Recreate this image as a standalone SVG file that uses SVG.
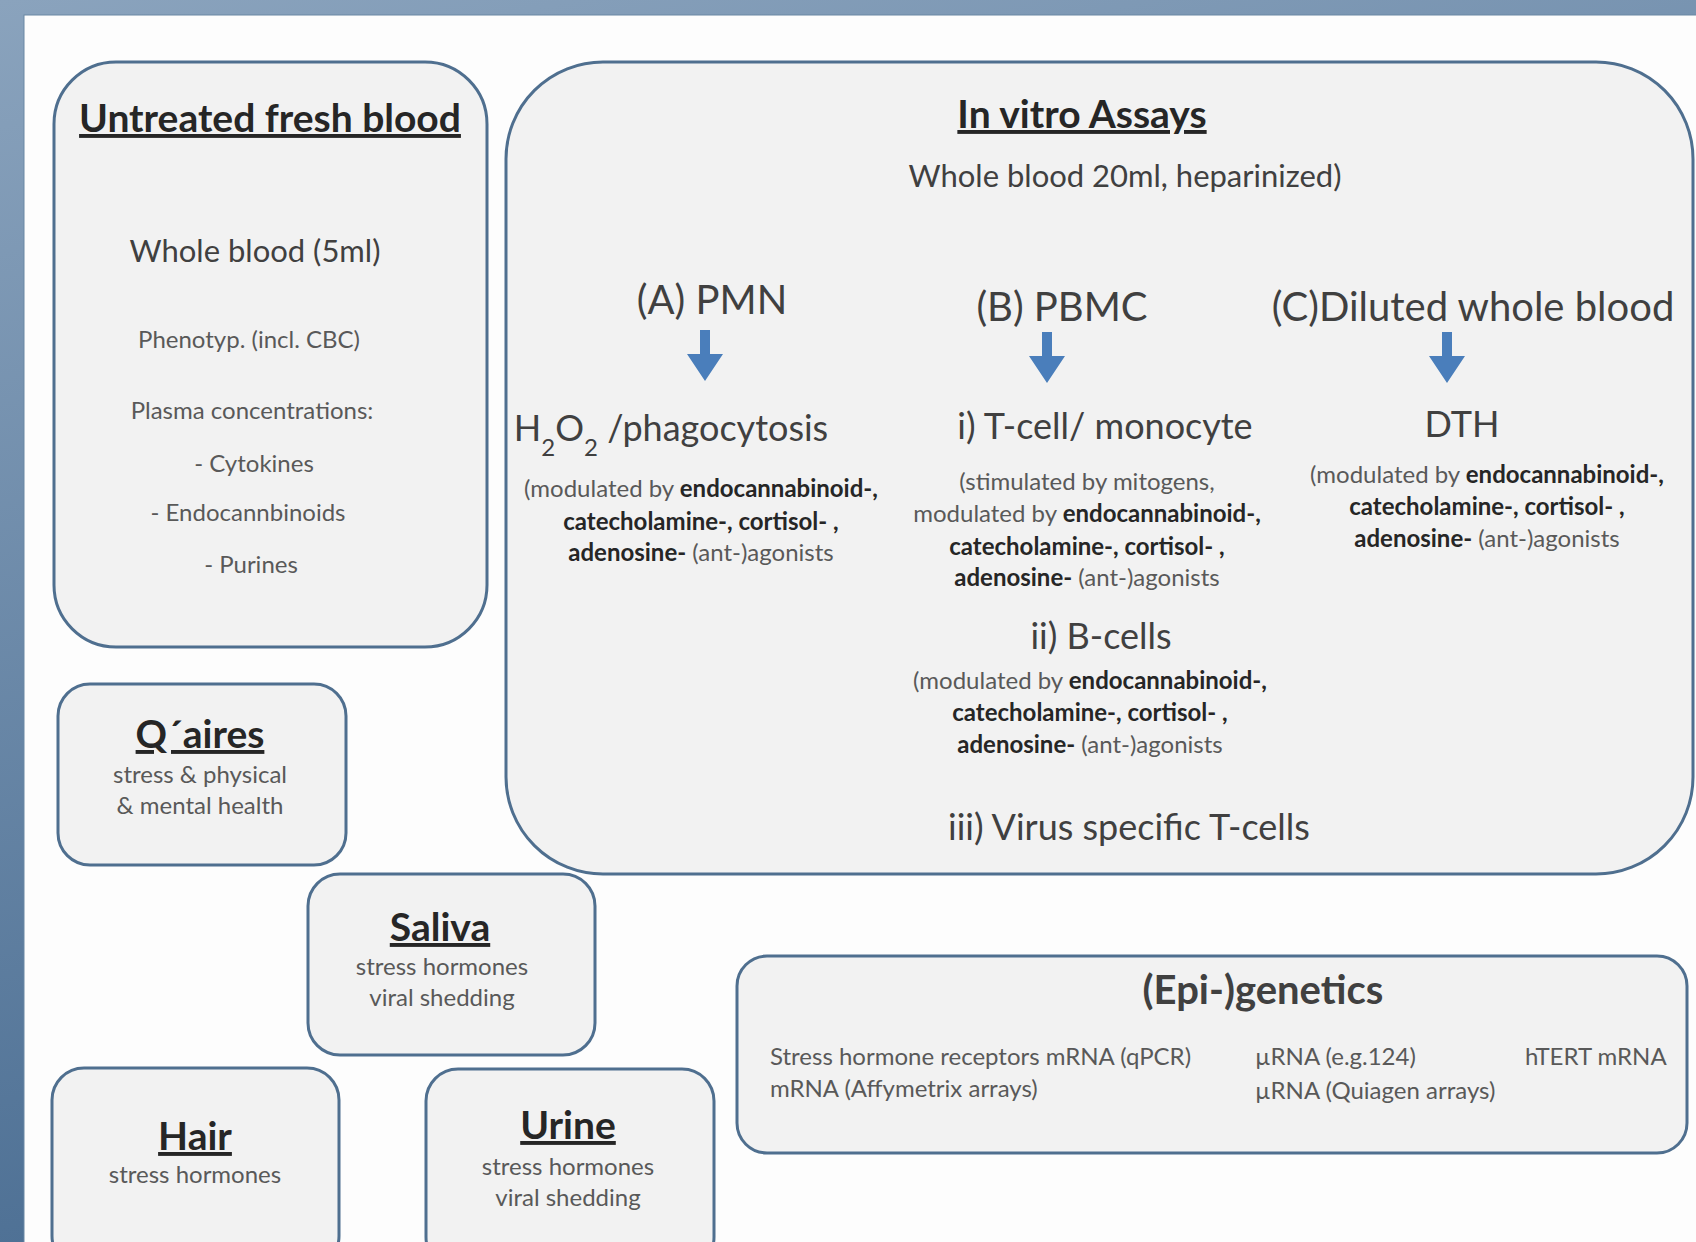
<svg xmlns="http://www.w3.org/2000/svg" width="1696" height="1242" viewBox="0 0 1696 1242">
<defs>
<linearGradient id="bg" x1="0" y1="0" x2="0.3" y2="1">
<stop offset="0" stop-color="#8aa3bd"/>
<stop offset="1" stop-color="#4a6d92"/>
</linearGradient>
<style>
.box{fill:#f2f2f2;stroke:#4f6f8f;stroke-width:3}
text{font-family:Lato,"Liberation Sans",sans-serif;text-anchor:middle;fill:#404040}
.ttl{font-weight:bold;font-size:39px;fill:#262626;text-decoration:underline}
.big{font-size:40px}
.mid{font-size:36px}
.med{font-size:31px}
.sm{font-size:24px;fill:#595959}
.b{font-weight:bold;fill:#262626}
.arr{fill:#4a7ebb}
.lft{text-anchor:start}
</style>
</defs>
<rect x="0" y="0" width="1696" height="1242" fill="url(#bg)"/>
<rect x="24" y="15" width="1680" height="1240" fill="#fdfdfd" stroke="#6b87a3" stroke-width="1"/>

<g id="untreated">
<rect class="box" x="54" y="62" width="433" height="585" rx="62"/>
<text class="ttl" x="270" y="132">Untreated fresh blood</text>
<text class="med" x="255" y="262">Whole  blood (5ml)</text>
<text class="sm" x="249" y="348">Phenotyp.  (incl. CBC)</text>
<text class="sm" x="252" y="419">Plasma concentrations:</text>
<text class="sm" x="254" y="472">-  Cytokines</text>
<text class="sm" x="248" y="521">- Endocannbinoids</text>
<text class="sm" x="251" y="573">-  Purines</text>
</g>

<g id="invitro">
<rect class="box" x="506" y="62" width="1187" height="812" rx="97"/>
<text class="ttl" x="1082" y="128">In vitro Assays</text>
<text class="med" x="1125" y="187">Whole  blood 20ml, heparinized)</text>
<text class="big" x="712" y="314">(A) PMN</text>
<text class="big" x="1062" y="321">(B) PBMC</text>
<text class="big" x="1473" y="321">(C)Diluted whole blood</text>
<text class="mid" x="671" y="441">H<tspan font-size="24" baseline-shift="sub">2</tspan>O<tspan font-size="24" baseline-shift="sub">2</tspan> /phagocytosis</text>
<text class="mid" x="1105" y="439">i) T-cell/ monocyte</text>
<text class="mid" x="1462" y="437">DTH</text>
<text class="sm" x="701" y="497">(modulated  by <tspan class="b">endocannabinoid-,</tspan></text>
<text class="sm b" x="701" y="530">catecholamine-, cortisol-  ,</text>
<text class="sm" x="701" y="561"><tspan class="b">adenosine-</tspan> (ant-)agonists</text>
<text class="sm" x="1087" y="490">(stimulated  by mitogens,</text>
<text class="sm" x="1087" y="522">modulated by <tspan class="b">endocannabinoid-,</tspan></text>
<text class="sm b" x="1087" y="555">catecholamine-, cortisol-  ,</text>
<text class="sm" x="1087" y="586"><tspan class="b">adenosine-</tspan> (ant-)agonists</text>
<text class="mid" x="1101" y="649">ii) B-cells</text>
<text class="sm" x="1090" y="689">(modulated  by <tspan class="b">endocannabinoid-,</tspan></text>
<text class="sm b" x="1090" y="721">catecholamine-, cortisol-  ,</text>
<text class="sm" x="1090" y="753"><tspan class="b">adenosine-</tspan> (ant-)agonists</text>
<text class="mid" x="1129" y="840">iii) Virus specific T-cells</text>
<text class="sm" x="1487" y="483">(modulated  by <tspan class="b">endocannabinoid-,</tspan></text>
<text class="sm b" x="1487" y="515">catecholamine-, cortisol-  ,</text>
<text class="sm" x="1487" y="547"><tspan class="b">adenosine-</tspan> (ant-)agonists</text>
</g>

<g id="qaires">
<rect class="box" x="58" y="684" width="288" height="181" rx="32"/>
<text class="ttl" x="200" y="748">Q´aires</text>
<text class="sm" x="200" y="783">stress &amp; physical</text>
<text class="sm" x="200" y="814">&amp; mental health</text>
</g>

<g id="saliva">
<rect class="box" x="308" y="874" width="287" height="181" rx="32"/>
<text class="ttl" x="440" y="941">Saliva</text>
<text class="sm" x="442" y="975">stress hormones</text>
<text class="sm" x="442" y="1006">viral shedding</text>
</g>

<g id="hair">
<rect class="box" x="52" y="1068" width="287" height="200" rx="32"/>
<text class="ttl" x="195" y="1150">Hair</text>
<text class="sm" x="195" y="1183">stress hormones</text>
</g>

<g id="urine">
<rect class="box" x="426" y="1069" width="288" height="200" rx="32"/>
<text class="ttl" x="568" y="1139">Urine</text>
<text class="sm" x="568" y="1175">stress hormones</text>
<text class="sm" x="568" y="1206">viral shedding</text>
</g>

<g id="epigenetics">
<rect class="box" x="737" y="956" width="950" height="197" rx="30"/>
<text x="1263" y="1004" font-size="40" font-weight="bold" fill="#262626">(Epi-)genetics</text>
<text class="sm lft" x="770" y="1065">Stress hormone receptors mRNA (qPCR)</text>
<text class="sm lft" x="770" y="1097">mRNA (Affymetrix arrays)</text>
<text class="sm lft" x="1255" y="1065">µRNA (e.g.124)</text>
<text class="sm lft" x="1255" y="1099">µRNA (Quiagen  arrays)</text>
<text class="sm lft" x="1525" y="1065">hTERT mRNA</text>
</g>

<g id="connectors">
<path class="arr" d="M700 330 h10 v24 h13 l-18 27 l-18 -27 h13 z"/>
<path class="arr" d="M1042 332 h10 v24 h13 l-18 27 l-18 -27 h13 z"/>
<path class="arr" d="M1442 332 h10 v24 h13 l-18 27 l-18 -27 h13 z"/>
</g>
</svg>
